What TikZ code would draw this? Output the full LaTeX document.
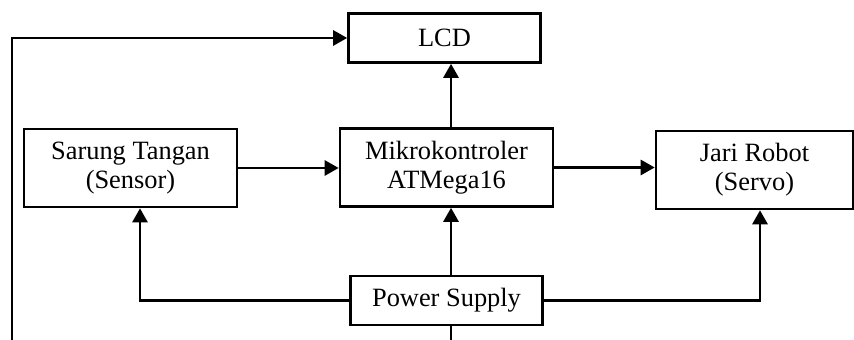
\documentclass[tikz,border=0pt]{standalone}
\usepackage{fontspec}
\setmainfont{Liberation Serif}
\usetikzlibrary{arrows.meta}

\begin{document}
\begin{tikzpicture}[
                x=0.5pt, y=-0.5pt,
                box/.style={
                    draw=black,
                    line width=1.3pt,
                    rectangle,
                    minimum width=106.5pt,
                    minimum height=39pt,
                    inner sep=0pt,
                    align=center,
                    font=\fontsize{13.2}{14.5}\selectfont
                },
                smallbox/.style={
                    box,
                    minimum width=96pt,
                    minimum height=24.5pt
                },
                arrow/.style={
                    -{Triangle[length=7pt,width=7.5pt]},
                    line width=1.4pt
                },
                wire/.style={
                    line width=1.4pt
                }
            ]
                \useasboundingbox (0,0) rectangle (854,340);

                \node[smallbox] (lcd) at (444.5,38) {LCD};
                \node[box] (sensor) at (130.5,168) {Sarung Tangan\\(Sensor)};
                \node[box] (mcu) at (446.5,167.5) {Mikrokontroler\\ATMega16};
                \node[box, minimum width=98.5pt] (servo) at (754.5,170) {Jari Robot\\(Servo)};
                \node[smallbox] (power) at (446.5,300.5) {Power Supply};

                \coordinate (loopstart) at (12,340);
                \coordinate (powerend) at (451,340);

                \draw[arrow] (sensor.east) -- (sensor.east -| mcu.west);
                \draw[arrow] (mcu.east) -- (mcu.east -| servo.west);
                \draw[arrow] ([xshift=2.25pt]mcu.north) -- ([xshift=2.25pt]mcu.north |- lcd.south);
                \draw[arrow] ([xshift=2.25pt]power.north) -- ([xshift=2.25pt]power.north |- mcu.south);
                \draw[arrow] (power.west) -| ([xshift=4.75pt]sensor.south);
                \draw[arrow] (power.east) -| ([xshift=2.75pt]servo.south);
                \draw[wire] (power.south -| powerend) -- (powerend);
                \draw[arrow] (loopstart) |- (lcd.west);
        \end{tikzpicture}
\end{document}
